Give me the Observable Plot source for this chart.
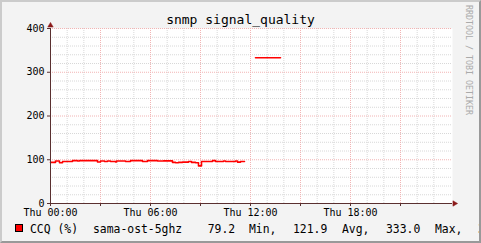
<!DOCTYPE html>
<html><head><meta charset="utf-8">
<script src="https://cdn.jsdelivr.net/npm/d3@7"></script>
<script src="https://cdn.jsdelivr.net/npm/@observablehq/plot@0.6"></script>
<style>
html,body{margin:0;padding:0;overflow:hidden;background:#f3f3f3}
#wrap{position:relative;width:481px;height:243px;overflow:hidden;background:#f3f3f3;font-family:"DejaVu Sans Mono",monospace;color:#000}
#wrap svg{position:absolute;left:0;top:0}
#shade{position:absolute;left:0;top:0;width:481px;height:243px;box-sizing:border-box;border-top:2px solid #cbcbcb;border-left:2px solid #cbcbcb;border-right:2px solid #999;border-bottom:2px solid #999;pointer-events:none}
#title{position:absolute;left:0;top:13.3px;width:481px;text-align:center;font-size:13px;line-height:1;white-space:pre}
#wm{position:absolute;left:465px;top:5px;writing-mode:vertical-rl;font-size:8.3px;line-height:1;color:#aaa;white-space:pre}
.lg{position:absolute;top:223.6px;font-size:11.4px;line-height:1;white-space:pre}
#box{position:absolute;left:15px;top:224px;width:8px;height:8px;box-sizing:border-box;background:#f00;border:1px solid #000}
</style>
</head><body>
<div id="wrap">
  <div id="title"></div>
  <div id="wm"></div>
  <div id="box"></div>
  <div id="legend"></div>
  <div id="shade"></div>
</div>
<script>
// ---- data ----
const titleText = "snmp signal_quality";
const watermark = "RRDTOOL / TOBI OETIKER";
const hours = [0, 0.30, 0.54, 0.72, 1.32, 1.62, 1.74, 2.82, 3.0, 3.24, 3.42, 3.6, 3.9, 3.96, 4.5, 4.8, 5.52, 5.82, 6.42, 6.78, 7.32, 7.5, 7.68, 7.92, 8.28, 8.46, 8.7, 8.88, 9.06, 9.72, 9.9, 10.38, 10.5, 11.1, 11.22, 11.4, 11.64, 11.65, 12.3, 13.8];
const ccq   = [94, 97, 93, 96, 98, 97, 98, 95, 97, 96, 97, 96, 95, 97, 96, 98, 96, 98, 97, 97.5, 94, 93, 94, 94.5, 96, 94, 93, 86, 96, 98, 96, 97, 96, 97, 94.5, 96, 96, NaN, 333, 333];
const yTicks = [0, 100, 200, 300, 400];
const yMinor = [20, 40, 60, 80, 120, 140, 160, 180, 220, 240, 260, 280, 320, 340, 360, 380];
const xMajor = [0, 3, 6, 9, 12, 15, 18, 21];
const xMinor = [1, 2, 4, 5, 7, 8, 10, 11, 13, 14, 16, 17, 19, 20, 22, 23];
const xLabelHours = [0, 6, 12, 18];
const dayName = "Thu";
const legendItems = [
  {text: "CCQ (%)", left: 30},
  {text: "sama-ost-5ghz", left: 93},
  {text: "79.2", left: 207.7},
  {text: "Min,", left: 249},
  {text: "121.9", left: 293},
  {text: "Avg,", left: 342},
  {text: "333.0", left: 386},
  {text: "Max,", left: 435},
  {text: "333.0  Last", left: 478}
];

const data = hours.map((h, i) => ({h, v: ccq[i]}));
const axisColor = "#5a3030";
const arrowColor = "#8b1a1a";
const minorGrid = "#d8d8d8";
const majorGrid = "#f2b4b4";

document.getElementById("title").textContent = titleText;
document.getElementById("wm").textContent = watermark;
const lg = document.getElementById("legend");
for (const it of legendItems) {
  const d = document.createElement("div");
  d.className = "lg"; d.style.left = it.left + "px"; d.textContent = it.text;
  lg.appendChild(d);
}

const fmt = h => `${dayName} ${String(h).padStart(2, "0")}:00`;

const plot = Plot.plot({
  width: 481, height: 243,
  marginLeft: 50, marginRight: 29, marginTop: 28, marginBottom: 40,
  style: {background: "transparent", fontFamily: "DejaVu Sans Mono, monospace", fontSize: "10px", color: "#000"},
  x: {type: "linear", domain: [0, 24 * 402 / 400]},
  y: {domain: [0, 400]},
  marks: [
    Plot.frame({fill: "#fff", stroke: null}),
    Plot.ruleX(xMinor, {stroke: minorGrid, strokeDasharray: "1,1"}),
    Plot.ruleY(yMinor, {stroke: minorGrid, strokeDasharray: "1,1"}),
    Plot.ruleX(xMajor.filter(d => d !== 0), {stroke: majorGrid, strokeDasharray: "1,1"}),
    Plot.ruleY(yTicks.filter(d => d !== 0), {stroke: majorGrid, strokeDasharray: "1,1"}),
    Plot.line(data, {x: "h", y: "v", curve: "step-after", stroke: "#ff0000", strokeWidth: 1.6}),
    Plot.axisY({ticks: yTicks, tickSize: 3, tickPadding: 3, stroke: axisColor, fill: "#000", label: null, tickFormat: d => String(d)}),
    Plot.axisX({ticks: xMajor, tickSize: 3, tickPadding: 2, stroke: axisColor, fill: "#000", label: null,
      tickFormat: d => xLabelHours.includes(d) ? fmt(d) : ""}),
    Plot.ruleY([0], {stroke: axisColor}),
    Plot.ruleX([0], {stroke: axisColor}),
    Plot.dot([0], {frameAnchor: "top-left", symbol: "triangle", r: 2, fill: arrowColor, stroke: arrowColor, strokeWidth: 0.5, dy: -3}),
    Plot.dot([0], {frameAnchor: "bottom-right", symbol: "triangle", r: 2, rotate: 90, fill: arrowColor, stroke: arrowColor, strokeWidth: 0.5, dx: 2})
  ]
});
document.getElementById("wrap").insertBefore(plot, document.getElementById("title"));
</script>
</body></html>
